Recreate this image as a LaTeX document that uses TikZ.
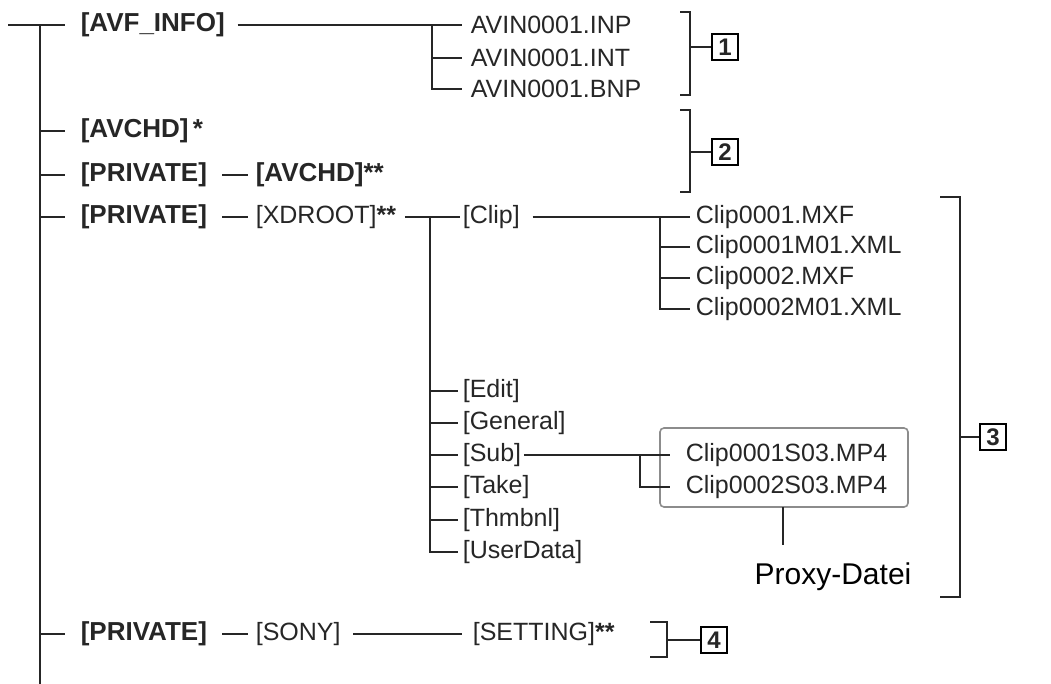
\documentclass[tikz,border=0pt]{standalone}
\usepackage{fontspec}
\setmainfont{Liberation Sans}
\begin{document}
\begin{tikzpicture}[x=1pt,y=-1pt,line width=1.6pt,
  every node/.style={anchor=west,inner sep=0pt,text=black!85},
  t/.style={font=\fontsize{25}{27}\selectfont},
  b/.style={font=\bfseries\fontsize{26}{28}\selectfont},
  num/.style={draw,anchor=center,minimum size=26pt,inner sep=0pt,line width=1.4pt,font=\bfseries\fontsize{24}{26}\selectfont},
  ln/.style={draw=black!85}]
\useasboundingbox (0,0) rectangle (1051,684);
\draw[ln] (8,25) -- (65,25);
\draw[ln] (40,25) -- (40,684);
% rows
\node[b] (avf) at (80,25) {[AVF\_INFO]};
\node[b] (avchd) at (80,131) {[AVCHD]\,*};
\node[b] (p1) at (80,175) {[PRIVATE]};
\node[b] (avchd2) at (255,175) {[AVCHD]**};
\node[b] (p2) at (80,217) {[PRIVATE]};
\node[t] (xd) at (255,217) {[XDROOT]\textbf{**}};
\node[b] (p3) at (80,634) {[PRIVATE]};
\node[t] (sony) at (255,634) {[SONY]};
\node[t] (set) at (472,634) {[SETTING]\textbf{**}};
\foreach \y in {131,175,217,634} \draw[ln] (40,\y) -- (65,\y);
\draw[ln] (222,175) -- (248,175);
\draw[ln] (222,217) -- (248,217);
\draw[ln] (222,634) -- (248,634);
\draw[ln] (sony.east) ++(12,0) -- (462,634);
% AVF files
\node[t] (f1) at (470,25) {AVIN0001.INP};
\node[t] (f2) at (470,58) {AVIN0001.INT};
\node[t] (f3) at (470,89) {AVIN0001.BNP};
\draw[ln] (avf.east) ++(12,0) -- (462,25);
\draw[ln] (432,25) -- (432,89) -- (462,89);
\draw[ln] (432,58) -- (462,58);
% XDROOT
\draw[ln] (xd.east) ++(8,0) -- (460,217);
\draw[ln] (430,217) -- (430,552) -- (458,552);
\node[t] (clip) at (462,217) {[Clip]};
\node[t] (ed) at (462,391) {[Edit]};
\node[t] (ge) at (462,423) {[General]};
\node[t] (sub) at (462,455) {[Sub]};
\node[t] (ta) at (462,487) {[Take]};
\node[t] (th) at (462,520) {[Thmbnl]};
\node[t] (ud) at (462,552) {[UserData]};
\foreach \y in {391,423,455,487,520} \draw[ln] (430,\y) -- (458,\y);
% Clip files
\node[t] (c1) at (695,217) {Clip0001.MXF};
\node[t] (c2) at (695,247) {Clip0001M01.XML};
\node[t] (c3) at (695,278) {Clip0002.MXF};
\node[t] (c4) at (695,309) {Clip0002M01.XML};
\draw[ln] (clip.east) ++(12,0) -- (690,217);
\draw[ln] (660,217) -- (660,309) -- (690,309);
\draw[ln] (660,247) -- (690,247);
\draw[ln] (660,278) -- (690,278);
% Sub files
\draw[draw=black!45,line width=1.6pt,rounded corners=4pt] (660,428) rectangle (908,507);
\node[t] (s1) at (685,455) {Clip0001S03.MP4};
\node[t] (s2) at (685,487) {Clip0002S03.MP4};
\draw[ln] (sub.east) ++(2,0) -- (670,455);
\draw[ln] (640,455) -- (640,487) -- (670,487);
\coordinate (bx) at (783,507);
\node[font=\fontsize{30}{32}\selectfont,text=black,anchor=center] (proxy) at (833,577) {Proxy-Datei};
\draw[ln] (bx) -- (783,545);
% brackets
\draw[ln] (680,12) -- (690,12) -- (690,95) -- (680,95);
\draw[ln] (690,47) -- (712,47);
\node[num] (n1) at (725,47) {1};
\draw[ln] (680,110) -- (690,110) -- (690,192) -- (680,192);
\draw[ln] (690,152) -- (712,152);
\node[num] (n2) at (725,152) {2};
\draw[ln] (940,197) -- (960,197) -- (960,597) -- (940,597);
\draw[ln] (960,437) -- (980,437);
\node[num] (n3) at (993,437) {3};
\draw[ln] (650,622) -- (667,622) -- (667,657) -- (650,657);
\draw[ln] (667,640) -- (701,640);
\node[num] (n4) at (714,640) {4};
\end{tikzpicture}
\end{document}
